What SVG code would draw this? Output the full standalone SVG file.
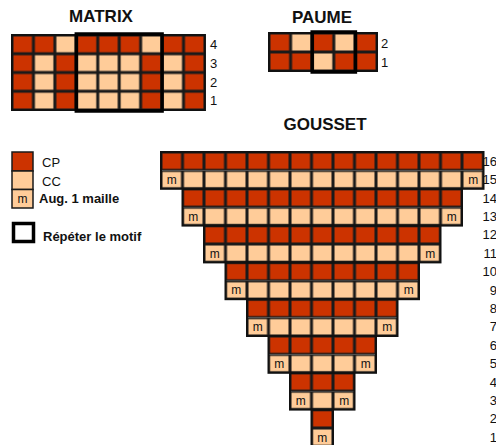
<svg xmlns="http://www.w3.org/2000/svg" width="496" height="445" viewBox="0 0 496 445">
<style>
text{font-family:"Liberation Sans",Arial,sans-serif;fill:#111}
.t{font-size:17px;font-weight:bold;text-anchor:middle}
.n{font-size:13px}
.nr{font-size:13px;text-anchor:end}
.m{font-size:12px;text-anchor:middle}
.lg{font-size:13px}
.lb{font-size:13px;font-weight:bold}
.band{fill:none;stroke:#111;stroke-width:2}
.rep{fill:none;stroke:#000;stroke-width:3.5}
.cd{fill:#CC3300;stroke:#1a1a1a;stroke-width:1.5}
.cl{fill:#FFCC99;stroke:#1a1a1a;stroke-width:1.5}
</style>
<defs>
<pattern id="gd" patternUnits="userSpaceOnUse" x="161" y="152" width="21.5" height="18.4"><rect width="21.5" height="18.4" fill="#CC3300" stroke="#1a1a1a" stroke-width="3"/></pattern>
<pattern id="gl" patternUnits="userSpaceOnUse" x="161" y="152" width="21.5" height="18.4"><rect width="21.5" height="18.4" fill="#FFCC99" stroke="#1a1a1a" stroke-width="3"/></pattern>
<pattern id="md" patternUnits="userSpaceOnUse" x="12" y="35" width="21.44" height="18.75"><rect width="21.44" height="18.75" fill="#CC3300" stroke="#1a1a1a" stroke-width="3"/></pattern>
<pattern id="ml" patternUnits="userSpaceOnUse" x="12" y="35" width="21.44" height="18.75"><rect width="21.44" height="18.75" fill="#FFCC99" stroke="#1a1a1a" stroke-width="3"/></pattern>
<pattern id="pd" patternUnits="userSpaceOnUse" x="269" y="33" width="21.6" height="19"><rect width="21.6" height="19" fill="#CC3300" stroke="#1a1a1a" stroke-width="3"/></pattern>
<pattern id="pl" patternUnits="userSpaceOnUse" x="269" y="33" width="21.6" height="19"><rect width="21.6" height="19" fill="#FFCC99" stroke="#1a1a1a" stroke-width="3"/></pattern>
</defs>

<g id="matrix">
<text class="t" x="101" y="22">MATRIX</text>
<rect x="12" y="35" width="192.96" height="75" fill="url(#md)"/>
<rect x="54.88" y="35" width="21.44" height="18.75" fill="url(#ml)"/>
<rect x="140.64" y="35" width="21.44" height="18.75" fill="url(#ml)"/>
<rect x="33.44" y="53.75" width="21.44" height="56.25" fill="url(#ml)"/>
<rect x="76.32" y="53.75" width="64.32" height="56.25" fill="url(#ml)"/>
<rect x="162.08" y="53.75" width="21.44" height="56.25" fill="url(#ml)"/>
<rect x="12" y="35" width="192.96" height="75" class="band" stroke-width="1.5"/>
<rect x="76.32" y="34" width="85.76" height="77" class="rep"/>
<text class="n" x="210" y="49">4</text>
<text class="n" x="210" y="67.5">3</text>
<text class="n" x="210" y="86.5">2</text>
<text class="n" x="210" y="105">1</text>
</g>

<g id="paume">
<text class="t" x="322" y="23">PAUME</text>
<rect x="269" y="33" width="108" height="38" fill="url(#pd)"/>
<rect x="290.6" y="33" width="21.6" height="19" fill="url(#pl)"/>
<rect x="333.8" y="33" width="21.6" height="19" fill="url(#pl)"/>
<rect x="312.2" y="52" width="21.6" height="19" fill="url(#pl)"/>
<rect x="269" y="33" width="108" height="38" class="band" stroke-width="1.5"/>
<rect x="312.2" y="32" width="43.2" height="40" class="rep"/>
<text class="n" x="381" y="47.5">2</text>
<text class="n" x="381" y="66.5">1</text>
</g>

<g id="legend">
<rect x="12" y="152" width="21" height="19" class="cd"/>
<rect x="12" y="171" width="21" height="18.5" class="cl"/>
<rect x="12" y="189.5" width="21" height="18.5" class="cl"/>
<text class="m" x="22.5" y="203">m</text>
<text class="lg" x="42" y="167">CP</text>
<text class="lg" x="42" y="185.5">CC</text>
<text class="lb" x="39" y="203">Aug. 1 maille</text>
<rect x="13.5" y="223.5" width="20" height="18" class="rep"/>
<text class="lb" x="43" y="241">Répéter le motif</text>
</g>

<g id="gousset">
<text class="t" x="325" y="130">GOUSSET</text>
<rect x="161" y="152" width="322.5" height="18.4" fill="url(#gd)"/>
<rect x="161" y="170.4" width="322.5" height="18.4" fill="url(#gl)"/>
<rect x="182.5" y="188.8" width="279.5" height="18.4" fill="url(#gd)"/>
<rect x="182.5" y="207.2" width="279.5" height="18.4" fill="url(#gl)"/>
<rect x="204" y="225.6" width="236.5" height="18.4" fill="url(#gd)"/>
<rect x="204" y="244" width="236.5" height="18.4" fill="url(#gl)"/>
<rect x="225.5" y="262.4" width="193.5" height="18.4" fill="url(#gd)"/>
<rect x="225.5" y="280.8" width="193.5" height="18.4" fill="url(#gl)"/>
<rect x="247" y="299.2" width="150.5" height="18.4" fill="url(#gd)"/>
<rect x="247" y="317.6" width="150.5" height="18.4" fill="url(#gl)"/>
<rect x="268.5" y="336" width="107.5" height="18.4" fill="url(#gd)"/>
<rect x="268.5" y="354.4" width="107.5" height="18.4" fill="url(#gl)"/>
<rect x="290" y="372.8" width="64.5" height="18.4" fill="url(#gd)"/>
<rect x="290" y="391.2" width="64.5" height="18.4" fill="url(#gl)"/>
<rect x="311.5" y="409.6" width="21.5" height="18.4" fill="url(#gd)"/>
<rect x="311.5" y="428" width="21.5" height="18.4" fill="url(#gl)"/>
<rect x="161" y="152" width="322.5" height="36.8" class="band"/>
<rect x="182.5" y="188.8" width="279.5" height="36.8" class="band"/>
<rect x="204" y="225.6" width="236.5" height="36.8" class="band"/>
<rect x="225.5" y="262.4" width="193.5" height="36.8" class="band"/>
<rect x="247" y="299.2" width="150.5" height="36.8" class="band"/>
<rect x="268.5" y="336" width="107.5" height="36.8" class="band"/>
<rect x="290" y="372.8" width="64.5" height="36.8" class="band"/>
<rect x="311.5" y="409.6" width="21.5" height="36.8" class="band"/>
<text class="m" x="171.75" y="184">m</text><text class="m" x="473.25" y="184">m</text>
<text class="m" x="193.25" y="220.8">m</text><text class="m" x="451.75" y="220.8">m</text>
<text class="m" x="214.75" y="257.6">m</text><text class="m" x="430.25" y="257.6">m</text>
<text class="m" x="236.25" y="294.4">m</text><text class="m" x="408.75" y="294.4">m</text>
<text class="m" x="257.75" y="331.2">m</text><text class="m" x="387.25" y="331.2">m</text>
<text class="m" x="279.25" y="368">m</text><text class="m" x="365.75" y="368">m</text>
<text class="m" x="300.75" y="404.8">m</text><text class="m" x="344.25" y="404.8">m</text>
<text class="m" x="322.25" y="441.6">m</text>
<text class="nr" x="497" y="165.7">16</text>
<text class="nr" x="497" y="184.1">15</text>
<text class="nr" x="497" y="202.5">14</text>
<text class="nr" x="497" y="220.9">13</text>
<text class="nr" x="497" y="239.3">12</text>
<text class="nr" x="497" y="257.7">11</text>
<text class="nr" x="497" y="276.1">10</text>
<text class="nr" x="497" y="294.5">9</text>
<text class="nr" x="497" y="312.9">8</text>
<text class="nr" x="497" y="331.3">7</text>
<text class="nr" x="497" y="349.7">6</text>
<text class="nr" x="497" y="368.1">5</text>
<text class="nr" x="497" y="386.5">4</text>
<text class="nr" x="497" y="404.9">3</text>
<text class="nr" x="497" y="423.3">2</text>
<text class="nr" x="497" y="441.7">1</text>
</g>
</svg>
